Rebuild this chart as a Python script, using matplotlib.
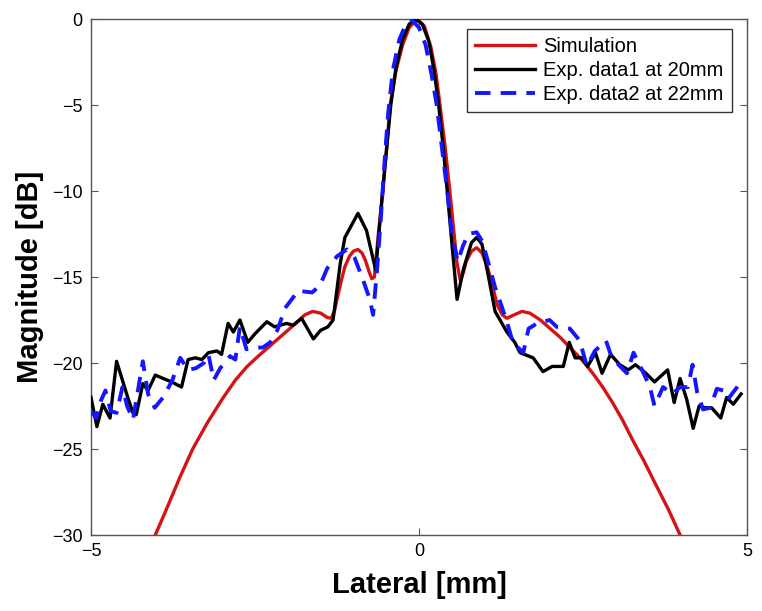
import matplotlib
matplotlib.use("Agg")
import matplotlib.pyplot as plt

plt.rcParams['font.family'] = ['Liberation Sans', 'DejaVu Sans']

# Simulation (red)
sim_x = [-4.10, -4.02, -3.85, -3.64, -3.45, -3.23, -3.00, -2.80, -2.62, -2.45, -2.30, -2.15,
         -2.00, -1.85, -1.74, -1.62, -1.50, -1.40, -1.34, -1.29, -1.25, -1.19, -1.13, -1.06,
         -1.00, -0.93, -0.87, -0.82, -0.76, -0.72, -0.68, -0.62, -0.55, -0.50, -0.44,
         -0.35, -0.25, -0.15, -0.03, 0.08, 0.18, 0.26, 0.32, 0.40, 0.47, 0.53, 0.58, 0.63,
         0.68, 0.72, 0.80, 0.88, 0.96, 1.05, 1.12, 1.19, 1.27, 1.34, 1.45, 1.57, 1.69,
         1.85, 2.00, 2.15, 2.30, 2.48, 2.65, 2.80, 2.95, 3.10, 3.26, 3.43, 3.60, 3.80, 3.98, 4.10]
sim_y = [-30.6, -30.0, -28.5, -26.6, -25.0, -23.5, -22.1, -21.0, -20.2, -19.6, -19.1, -18.6,
         -18.1, -17.6, -17.2, -17.0, -17.1, -17.35, -17.4, -17.0, -16.3, -15.3, -14.4, -13.8,
         -13.5, -13.4, -13.6, -14.0, -14.7, -15.1, -15.0, -12.5, -10.0, -7.8, -5.0,
         -3.0, -1.5, -0.5, 0.0, -0.4, -1.6, -3.2, -5.0, -7.5, -10.0, -12.3, -14.2, -15.2,
         -14.7, -14.1, -13.5, -13.3, -13.6, -14.5, -15.5, -16.6, -17.2, -17.4, -17.2, -17.0, -17.1,
         -17.5, -18.0, -18.5, -19.1, -19.8, -20.6, -21.4, -22.3, -23.3, -24.5, -25.7, -27.0, -28.5, -30.0, -30.9]

# Exp. data1 at 20mm (black)
exp1_x = [-5.00, -4.91, -4.82, -4.71, -4.61, -4.44, -4.36, -4.31, -4.21, -4.13, -4.02, -3.90,
          -3.77, -3.62, -3.52, -3.41, -3.31, -3.21, -3.08, -3.01, -2.91, -2.83, -2.73, -2.61,
          -2.50, -2.32, -2.20, -2.02, -1.92, -1.79, -1.61, -1.50, -1.39, -1.31, -1.20, -1.13,
          -0.93, -0.80, -0.66, -0.55, -0.48, -0.43, -0.35, -0.25, -0.15, -0.05, 0.05, 0.15,
          0.23, 0.30, 0.37, 0.43, 0.50, 0.58, 0.68, 0.80, 0.88, 0.96, 1.05, 1.16, 1.34, 1.46,
          1.54, 1.74, 1.89, 2.03, 2.20, 2.29, 2.38, 2.48, 2.57, 2.69, 2.79, 2.92, 3.06, 3.19,
          3.30, 3.46, 3.59, 3.79, 3.89, 3.98, 4.08, 4.18, 4.27, 4.36, 4.46, 4.60, 4.69, 4.79, 4.91]
exp1_y = [-22.0, -23.7, -22.4, -23.2, -19.9, -22.0, -22.9, -23.0, -21.2, -21.6, -20.7, -20.9,
          -21.1, -21.4, -19.8, -19.7, -19.8, -19.4, -19.3, -19.5, -17.7, -18.2, -17.5, -18.8,
          -18.3, -17.6, -17.9, -17.7, -17.8, -17.4, -18.6, -18.1, -17.9, -17.5, -14.2, -12.7,
          -11.3, -12.3, -14.6, -9.8, -7.0, -5.0, -2.8, -1.2, -0.3, 0.0, -0.3, -1.3,
          -3.0, -5.0, -7.5, -10.0, -13.0, -16.3, -14.5, -13.0, -12.7, -13.1, -14.8, -17.0, -18.2, -18.8,
          -19.4, -19.7, -20.5, -20.2, -20.2, -18.8, -19.7, -19.7, -20.2, -19.4, -20.6, -19.5, -20.1, -20.4,
          -20.1, -20.6, -21.1, -20.4, -22.3, -20.9, -22.1, -23.8, -22.5, -22.6, -22.6, -23.2, -22.0, -22.4, -21.8]

# Exp. data2 at 22mm (blue dashed)
exp2_x = [-5.00, -4.92, -4.85, -4.78, -4.70, -4.61, -4.52, -4.45, -4.36, -4.21, -4.13, -4.03,
          -3.90, -3.76, -3.64, -3.52, -3.40, -3.28, -3.21, -3.13, -3.03, -2.88, -2.80, -2.73,
          -2.63, -2.47, -2.38, -2.27, -2.16, -2.04, -1.84, -1.63, -1.51, -1.40, -1.25, -1.10,
          -0.98, -0.85, -0.75, -0.70, -0.64, -0.58, -0.52, -0.47, -0.40, -0.30, -0.20, -0.10,
          0.00, 0.10, 0.19, 0.27, 0.35, 0.43, 0.50, 0.59, 0.67, 0.75, 0.88, 0.96, 1.03, 1.16,
          1.26, 1.34, 1.43, 1.59, 1.67, 1.80, 1.99, 2.10, 2.30, 2.45, 2.56, 2.68, 2.85, 2.94,
          3.17, 3.27, 3.40, 3.52, 3.59, 3.72, 3.86, 3.98, 4.10, 4.17, 4.24, 4.33, 4.44, 4.54,
          4.64, 4.71, 4.85, 4.92]
exp2_y = [-22.8, -23.2, -22.2, -21.6, -22.8, -22.9, -21.4, -22.5, -23.3, -19.9, -21.8, -22.6,
          -22.0, -21.0, -19.7, -20.4, -20.3, -20.0, -19.5, -21.0, -20.3, -19.6, -19.8, -17.9,
          -19.2, -19.1, -19.1, -18.8, -18.1, -16.8, -15.8, -15.9, -15.5, -14.5, -13.8, -13.4,
          -13.9, -15.2, -16.3, -17.2, -14.6, -11.5, -8.0, -5.5, -3.0, -1.2, -0.3, -0.1,
          -0.5, -1.5, -3.2, -5.0, -7.5, -10.0, -12.5, -14.1, -13.2, -12.5, -12.4, -12.9, -13.8, -15.6,
          -16.7, -17.6, -18.8, -19.4, -18.0, -17.7, -17.5, -17.9, -18.0, -18.7, -20.2, -19.3, -18.7, -19.7,
          -20.6, -19.4, -20.4, -21.4, -22.5, -21.4, -21.8, -21.4, -21.4, -20.1, -21.7, -22.7, -22.6, -21.5,
          -21.6, -22.1, -21.4, -21.0]

labels = ['Simulation', 'Exp. data1 at 20mm', 'Exp. data2 at 22mm']
x_ticks = [-5, 0, 5]
y_ticks = [-30, -25, -20, -15, -10, -5, 0]

fig = plt.figure(figsize=(7.62, 6.11), dpi=100)
ax = fig.add_axes([91/762, 76/611, 656/762, 516/611])

ax.plot(sim_x, sim_y, color='#d41414', lw=2.4, label=labels[0], zorder=2)
ax.plot(exp1_x, exp1_y, color='black', lw=2.4, label=labels[1], zorder=3)
ax.plot(exp2_x, exp2_y, color='#1515ff', lw=2.8, linestyle=(0, (4, 2.6)), label=labels[2], zorder=4)

ax.set_xlim(-5, 5)
ax.set_ylim(-30, 0)
ax.set_xticks(x_ticks)
ax.set_yticks(y_ticks)
ax.tick_params(direction='in', top=True, right=True, length=5, width=0.8,
               labelsize=13, color='#555555', pad=6)
for s in ax.spines.values():
    s.set_color('#555555')
    s.set_linewidth(1.0)

ax.set_xlabel('Lateral [mm]', fontsize=21, fontweight='bold', labelpad=8)
ax.set_ylabel('Magnitude [dB]', fontsize=21, fontweight='bold', labelpad=6)

leg = ax.legend(loc='upper right', bbox_to_anchor=(0.977, 0.981), fontsize=14.5,
                fancybox=False, framealpha=1, edgecolor='#333333', borderaxespad=0.0,
                handlelength=3.0, handletextpad=0.4, borderpad=0.4, labelspacing=0.25)
leg.get_frame().set_linewidth(1.0)

fig.savefig('out.png', dpi=100)
